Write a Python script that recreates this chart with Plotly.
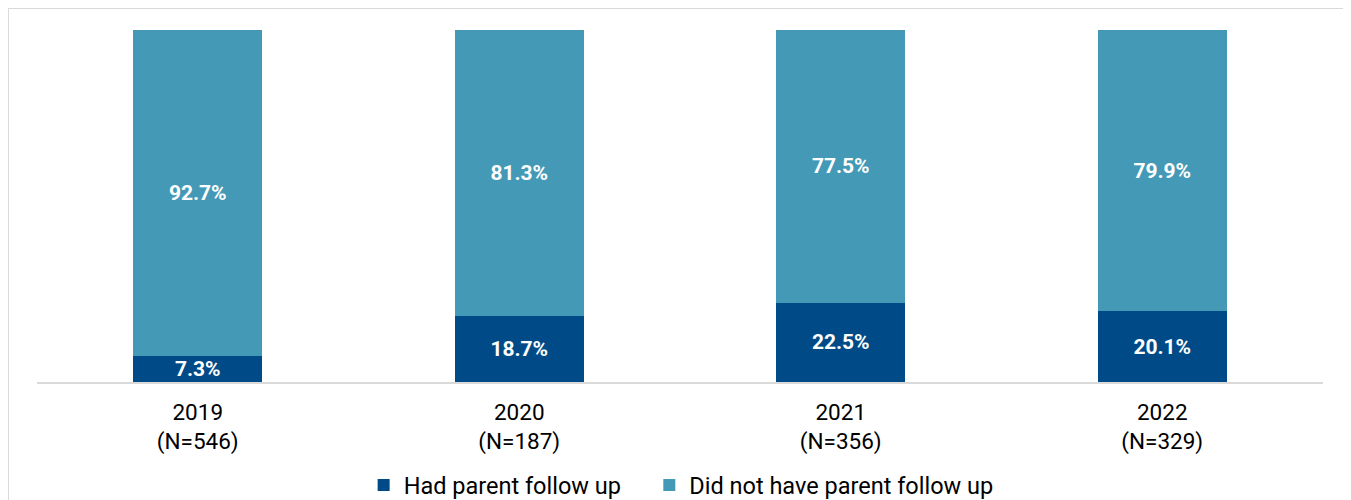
import plotly.graph_objects as go

years = ["2019", "2020", "2021", "2022"]
n_sizes = ["546", "187", "356", "329"]
had_follow_up = [7.3, 18.7, 22.5, 20.1]
no_follow_up = [92.7, 81.3, 77.5, 79.9]

categories = [f"{y}<br>(N={n})" for y, n in zip(years, n_sizes)]

DARK = "#004B87"
LIGHT = "#4499B7"

label_font = dict(color="white", size=21, family="Roboto")

fig = go.Figure()
fig.add_trace(go.Bar(
    x=categories, y=had_follow_up,
    name="Had parent follow up" + "\u00a0" * 4,  # widen gap to second legend item
    marker=dict(color=DARK, line=dict(width=0)),
    text=[f"{v:.1f}%" for v in had_follow_up],
    textposition="inside", insidetextanchor="middle", constraintext="none",
    textangle=0, textfont=label_font,
    texttemplate="<b>%{text}</b>",
))
fig.add_trace(go.Bar(
    x=categories, y=no_follow_up, name="Did not have parent follow up",
    marker=dict(color=LIGHT, line=dict(width=0)),
    text=[f"{v:.1f}%" for v in no_follow_up],
    textposition="inside", insidetextanchor="middle", constraintext="none",
    textangle=0, textfont=label_font,
    texttemplate="<b>%{text}</b>",
))

# outer frame of the chart area (partly cropped)
fig.add_shape(type="rect", xref="paper", yref="paper",
              x0=-0.0226, x1=1.2, y0=-0.6, y1=1.0625,
              line=dict(color="#D9D9D9", width=2), layer="below")

# page body adds an 8px offset, margins compensate
fig.update_layout(
    barmode="stack",
    bargap=0.6,
    width=1351, height=500,
    margin=dict(l=29, r=36, t=22, b=126, autoexpand=False),
    paper_bgcolor="white", plot_bgcolor="white",
    font=dict(family="Roboto", color="#000000", size=22),
    uniformtext=dict(minsize=21, mode="show"),
    showlegend=True,
    legend=dict(orientation="h", x=0.254, xanchor="left", y=-0.293, yanchor="middle",
                font=dict(size=23.5, color="#000000"), traceorder="normal",
                itemwidth=30),
    xaxis=dict(showline=True, linecolor="#D9D9D9", linewidth=2, ticks="",
               ticklabelstandoff=9, tickfont=dict(size=22.5)),
    yaxis=dict(range=[0, 100], visible=False),
)

fig.write_html("out.html")
